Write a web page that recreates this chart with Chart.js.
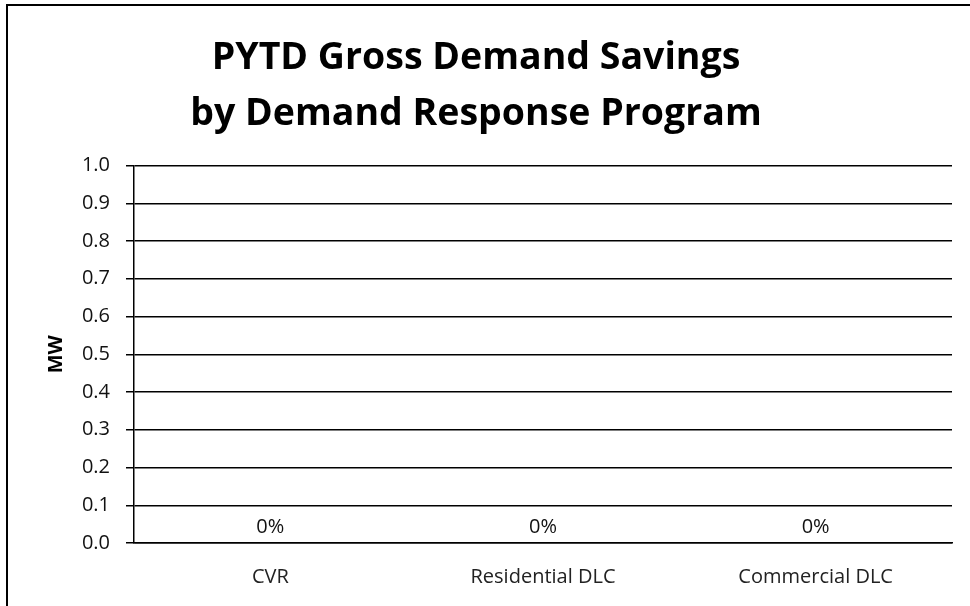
<!DOCTYPE html>
<html>
<head>
<meta charset="utf-8">
<script src="https://cdn.jsdelivr.net/npm/chart.js@4.4.0/dist/chart.umd.min.js"></script>
<style>
  html, body { margin: 0; padding: 0; background: #fff; overflow: hidden; }
  #wrap { position: relative; width: 970px; height: 606px; }
  #frame {
    position: absolute; left: 6px; top: 4px; width: 1000px; height: 700px;
    border: 2px solid #000; box-sizing: border-box;
  }
  #demandChart { position: absolute; left: 0; top: 0; }
</style>
</head>
<body>
<div id="wrap">
  <div id="frame"></div>
  <canvas id="demandChart" width="970" height="606"></canvas>
</div>
<script>
let programs = ["CVR", "Residential DLC", "Commercial DLC"];
let savingsMW = [0, 0, 0];
let pctLabels = ["0%", "0%", "0%"];
let yTicks = [0.0, 0.1, 0.2, 0.3, 0.4, 0.5, 0.6, 0.7, 0.8, 0.9, 1.0];

// draws the "0%" text above each bar end
const valueLabels = {
  id: "valueLabels",
  afterDatasetsDraw(chart) {
    const ctx = chart.ctx;
    const meta = chart.getDatasetMeta(0);
    ctx.save();
    ctx.font = "20px 'Open Sans'";
    ctx.fillStyle = "#111";
    ctx.textAlign = "center";
    ctx.textBaseline = "middle";
    meta.data.forEach((bar, i) => {
      ctx.fillText(pctLabels[i], bar.x, bar.y - 16);
    });
    ctx.restore();
  },
};

new Chart("demandChart", {
  type: "bar",
  data: {
    labels: programs,
    datasets: [
      {
        data: savingsMW,
        backgroundColor: "#4f81bd",
      },
    ],
  },
  options: {
    responsive: false,
    animation: false,
    layout: { padding: { left: 0, right: 18, top: 0, bottom: 0 } },
    plugins: {
      legend: { display: false },
      tooltip: { enabled: false },
      title: {
        display: true,
        text: ["PYTD Gross Demand Savings", "by Demand Response Program"],
        color: "#000",
        font: { family: "Open Sans", size: 37.5, weight: "bold", lineHeight: 1.5 },
        padding: { top: 30, bottom: 23 },
      },
    },
    scales: {
      x: {
        grid: { display: false },
        border: { color: "#000", width: 1.5 },
        ticks: { color: "#222", font: { family: "Open Sans", size: 20 }, padding: 14 },
        afterFit(scale) { scale.height = 63; },
      },
      y: {
        min: 0,
        max: 1,
        afterBuildTicks(scale) {
          scale.ticks = yTicks.map((v) => ({ value: v }));
        },
        ticks: {
          color: "#111",
          font: { family: "Open Sans", size: 20 },
          padding: 16,
          callback: (v) => Number(v).toFixed(1),
        },
        grid: { color: "#000", lineWidth: 1.5, tickLength: 8 },
        border: { color: "#000", width: 1.5 },
        title: {
          display: true,
          text: "MW",
          color: "#000",
          font: { family: "Open Sans", size: 20, weight: "bold", lineHeight: 1.2 },
          padding: { top: 44, bottom: 0 },
        },
        afterFit(scale) { scale.width = 134; },
      },
    },
  },
  plugins: [valueLabels],
});
</script>
</body>
</html>
